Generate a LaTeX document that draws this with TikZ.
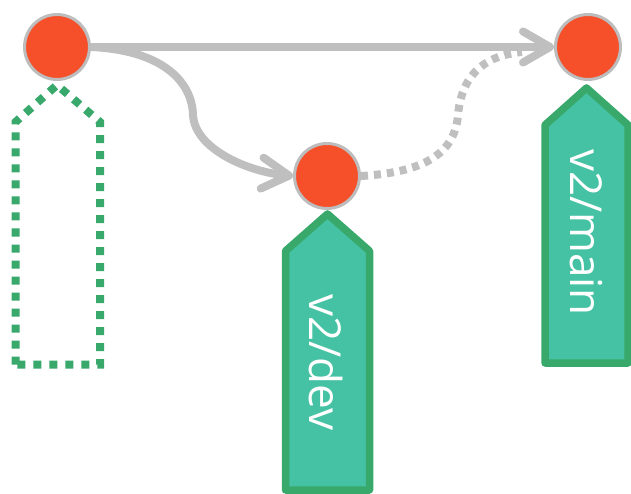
\documentclass[tikz,border=0pt]{standalone}
\usepackage{fontspec}
\setmainfont{Open Sans}
\usetikzlibrary{arrows.meta}
\definecolor{commit}{HTML}{F5502A}
\definecolor{edgegray}{HTML}{BFBFBF}
\definecolor{ringgray}{HTML}{BDBDBD}
\definecolor{taggreen}{HTML}{38A86B}
\definecolor{tagfill}{HTML}{45C2A3}
\begin{document}
\begin{tikzpicture}[x=1pt,y=-1pt,
  commitnode/.style={circle, fill=commit, draw=ringgray, line width=3pt, minimum size=65pt, inner sep=0pt},
  edge/.style={draw=edgegray, line width=8pt},
  tipped/.style={-{Straight Barb[length=27pt,width=31pt,round]}},
  dotted edge/.style={edge, dash pattern=on 7pt off 6pt},
  tagbox/.style={draw=taggreen, fill=tagfill, line width=7.5pt, line join=round},
  taglabel/.style={rotate=-90, anchor=base, text=white, font=\fontsize{44}{44}\selectfont, inner sep=0pt},
  ghost/.style={draw=taggreen, line width=8pt, dash pattern=on 8pt off 8pt}
]
\useasboundingbox (0,0) rectangle (631,494);
\begin{scope}
\clip (0,0) rectangle (631,494);
% ghost tag (dotted outline)
\draw[ghost] (15.5,364.5) -- (15.5,122) -- (57,85) -- (100,122) -- (100,364.5) -- cycle;
% tags
\draw[tagbox] (285.5,251) -- (327.5,214) -- (369.5,251) -- (369.5,490) -- (285.5,490) -- cycle;
\node[taglabel] (devlabel) at (309,362.5) {v2/dev};
\draw[tagbox] (545,125) -- (586.5,88) -- (628,125) -- (628,363) -- (545,363) -- cycle;
\node[taglabel] (mainlabel) at (570,232.5) {v2/main};
% commits
\node[commitnode] (a) at (57,47) {};
\node[commitnode] (b) at (327,176) {};
\node[commitnode] (c) at (588,47) {};
\coordinate (cend) at (522,52);
% edges
\draw[edge, tipped] (a.east) -- (c.west);
\draw[edge, tipped] (a.east) .. controls (160,50) and (192,80) .. (193,115)
  .. controls (195,150) and (250,172) .. (b.west);
\draw[dotted edge] (b.east) .. controls (430,172) and (455,150) .. (458,115)
  .. controls (462,70) and (490,55) .. (cend);
\end{scope}
\end{tikzpicture}
\end{document}
